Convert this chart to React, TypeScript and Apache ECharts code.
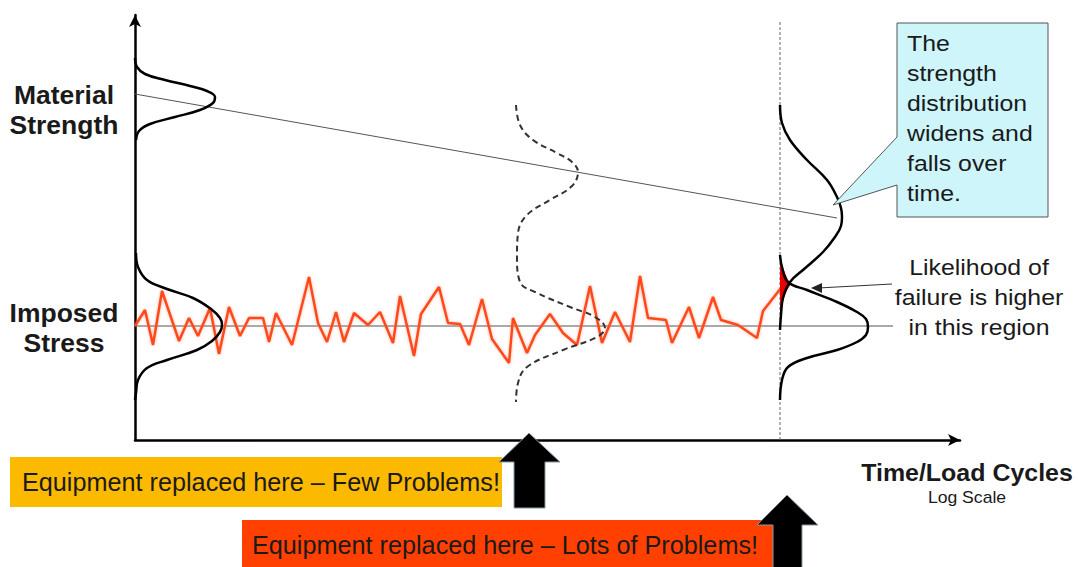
import React, { useEffect, useRef } from "react";
import * as echarts from "echarts";

// Imposed stress history (time, level)
const stressNoise: number[][] = [
  [0, 114], [10, 130], [18, 95], [27, 149], [44, 99], [54, 122], [63, 104], [75, 132], [84, 86], [94, 133],
  [105, 104], [114, 122], [128, 122], [134, 98], [141, 127], [157, 95], [174, 163], [183, 117], [192, 98],
  [201, 128], [209, 98], [219, 127], [233, 115], [245, 128], [258, 97], [265, 144], [279, 84], [286, 126],
  [304, 153], [313, 117], [325, 116], [334, 95], [347, 141], [357, 101], [374, 77], [378, 122], [392, 87],
  [400, 105], [415, 126], [428, 107], [442, 95], [455, 154], [467, 97], [480, 128], [495, 98], [505, 164],
  [513, 122], [531, 120], [537, 97], [554, 133], [564, 102], [578, 143], [586, 120], [603, 115], [622, 102],
  [628, 129], [646, 152],
];
// Material strength trend and mean imposed stress
const strengthTrend: number[][] = [[0, 346], [702, 222]];
const stressMean: number[][] = [[0, 114], [758, 114]];
// Distribution outlines
const strengthDistStart: number[][] = [
  [0, 382], [2, 373], [10, 366], [30, 360], [55, 354], [72, 349], [80, 343], [78, 337], [65, 330], [40, 323],
  [15, 316], [4, 309], [1, 300],
];
const stressDistStart: number[][] = [
  [1, 187], [3, 173], [12, 160], [32, 151], [58, 142], [76, 131], [85, 122], [87, 115], [85, 108], [77, 99],
  [62, 90], [32, 80], [12, 72], [3, 60], [1, 47], [0, 40],
];
const combinedDistMid: number[][] = [
  [381, 335], [385, 315], [398, 300], [422, 287], [437, 278], [443, 268], [437, 254], [415, 240], [392, 225],
  [383, 207], [382, 183], [385, 158], [400, 148], [435, 133], [460, 123], [470, 112], [462, 103], [428, 90],
  [392, 73], [383, 57], [381, 38],
];
const strengthDistEnd: number[][] = [
  [645, 335], [647, 317], [655, 300], [672, 280], [692, 260], [702, 243], [706, 232], [707, 223], [706, 214],
  [700, 203], [688, 188], [668, 170], [655, 158], [648, 142], [646, 125], [645, 110],
];
const stressDistEnd: number[][] = [
  [645, 185], [647, 173], [653, 158], [672, 150], [702, 138], [722, 128], [731, 121], [733, 113], [731, 105],
  [722, 98], [702, 90], [672, 82], [653, 73], [647, 60], [645, 40],
];
const overlapRegion: number[][] = [
  [645, 182], [648, 172], [653, 160], [656, 156], [652, 150], [648, 140], [646, 128], [645, 128],
];
const replacementLine: number[][] = [[645, 0], [645, 420]];

const calloutLines = ["The", "strength", "distribution", "widens and", "falls over", "time."];
const likelihoodLines = ["Likelihood of", "failure is higher", "in this region"];
const axisLabels = { strength: ["Material", "Strength"], stress: ["Imposed", "Stress"] };
const xTitle = "Time/Load Cycles";
const xSub = "Log Scale";
const fewText = "Equipment replaced here \u2013 Few Problems!";
const lotsText = "Equipment replaced here \u2013 Lots of Problems!";

const FONT = '"Liberation Sans", Arial, sans-serif';

function lineSeries(data: number[][], color: string, width: number, extra: any = {}) {
  return {
    type: "line",
    data,
    showSymbol: false,
    symbol: "none",
    silent: true,
    lineStyle: { color, width, ...(extra.lineStyle || {}) },
    smooth: extra.smooth ?? false,
    z: extra.z ?? 2,
  };
}

export default function App() {
  const ref = useRef<HTMLDivElement>(null);
  useEffect(() => {
    const chart = echarts.init(ref.current!, null, { renderer: "svg" });
    const txt = (text: string, x: number, y: number, size: number, opts: any = {}) => ({
      type: "text",
      x,
      y,
      scaleX: opts.scaleX ?? 1,
      z: 200,
      style: {
        text,
        fill: opts.fill ?? "#1a1a1a",
        font: `${opts.bold ? "bold " : ""}${size}px ${FONT}`,
        textAlign: opts.align ?? "left",
        textVerticalAlign: "middle",
      },
    });
    const graphic: any[] = [];
    axisLabels.strength.forEach((t, i) =>
      graphic.push(txt(t, 64, 95 + i * 30, 25, { bold: true, align: "center", scaleX: 1.06 }))
    );
    axisLabels.stress.forEach((t, i) =>
      graphic.push(txt(t, 64, 313 + i * 30, 25, { bold: true, align: "center", scaleX: 1.06 }))
    );
    // callout
    graphic.push({
      type: "polygon",
      z: 150,
      shape: { points: [[897, 23], [1048, 23], [1048, 217], [897, 217], [897, 185], [833, 205], [897, 137]] },
      style: { fill: "#cdf5fa", stroke: "#555", lineWidth: 1 },
    });
    calloutLines.forEach((t, i) => graphic.push(txt(t, 907, 44 + i * 30, 22, { scaleX: 1.13 })));
    likelihoodLines.forEach((t, i) => graphic.push(txt(t, 979, 268 + i * 30, 22, { align: "center", scaleX: 1.13 })));
    graphic.push({ type: "line", z: 150, shape: { x1: 892, y1: 284, x2: 818, y2: 288 }, style: { stroke: "#333", lineWidth: 1.2 } });
    graphic.push({ type: "polygon", z: 150, shape: { points: [[811, 288], [822, 283], [822, 293]] }, style: { fill: "#222" } });
    graphic.push(txt(xTitle, 967, 473, 24, { bold: true, align: "center", scaleX: 1.04 }));
    graphic.push(txt(xSub, 967, 498, 16, { align: "center", scaleX: 1.1 }));
    // replacement boxes
    graphic.push({ type: "rect", z: 150, shape: { x: 10, y: 457, width: 492, height: 50 }, style: { fill: "#fbb900" } });
    graphic.push(txt(fewText, 22, 482, 26, { scaleX: 0.97 }));
    graphic.push({ type: "rect", z: 150, shape: { x: 242, y: 520, width: 533, height: 47 }, style: { fill: "#ff4000" } });
    graphic.push(txt(lotsText, 252, 545, 26, { scaleX: 0.97 }));
    // up arrows
    graphic.push({
      type: "polygon",
      z: 210,
      shape: { points: [[529, 433], [560, 462], [545, 462], [545, 508], [514, 508], [514, 462], [499, 462]] },
      style: { fill: "#000", stroke: "#8a9aa0", lineWidth: 1 },
    });
    graphic.push({
      type: "polygon",
      z: 210,
      shape: { points: [[787, 495], [818, 525], [802, 525], [802, 570], [773, 570], [773, 525], [757, 525]] },
      style: { fill: "#000", stroke: "#8a9aa0", lineWidth: 1 },
    });

    const axisCommon = {
      type: "value",
      axisTick: { show: false },
      axisLabel: { show: false },
      splitLine: { show: false },
      axisLine: { show: true, lineStyle: { color: "#000", width: 2.5 }, symbol: ["none", "arrow"], symbolSize: [9, 12] },
    };

    chart.setOption({
      animation: false,
      grid: { left: 135, top: 15, width: 825, height: 425 },
      xAxis: { ...axisCommon, min: 0, max: 825 },
      yAxis: { ...axisCommon, min: 0, max: 425 },
      graphic,
      series: [
        lineSeries(strengthTrend, "#555", 1, { z: 1 }),
        lineSeries(stressMean, "#555", 1, { z: 1 }),
        lineSeries(replacementLine, "#666", 1, { z: 1, lineStyle: { type: [3, 2] } }),
        {
          ...lineSeries(stressNoise, "#ff4a1a", 2.5, { z: 3 }),
          lineStyle: { color: "#ff4a1a", width: 2.5, shadowColor: "rgba(255,120,80,0.6)", shadowBlur: 3 },
        },
        {
          type: "custom",
          silent: true,
          z: 4,
          data: [0],
          renderItem: (_p: any, api: any) => ({
            type: "polygon",
            shape: { points: overlapRegion.map((p) => api.coord(p)) },
            style: { fill: "#e80000" },
          }),
        },
        lineSeries(strengthDistStart, "#000", 2.5, { smooth: 0.4, z: 5 }),
        lineSeries(stressDistStart, "#000", 2.5, { smooth: 0.4, z: 5 }),
        lineSeries(combinedDistMid, "#333", 2, { smooth: 0.4, z: 5, lineStyle: { type: [6, 4] } }),
        lineSeries(strengthDistEnd, "#000", 2.5, { smooth: 0.4, z: 5 }),
        lineSeries(stressDistEnd, "#000", 2.5, { smooth: 0.4, z: 5 }),
      ],
    });
    return () => chart.dispose();
  }, []);
  return (
    <div
      ref={ref}
      style={{ position: "fixed", left: 0, top: 0, width: 1078, height: 567, background: "#fff" }}
    />
  );
}
